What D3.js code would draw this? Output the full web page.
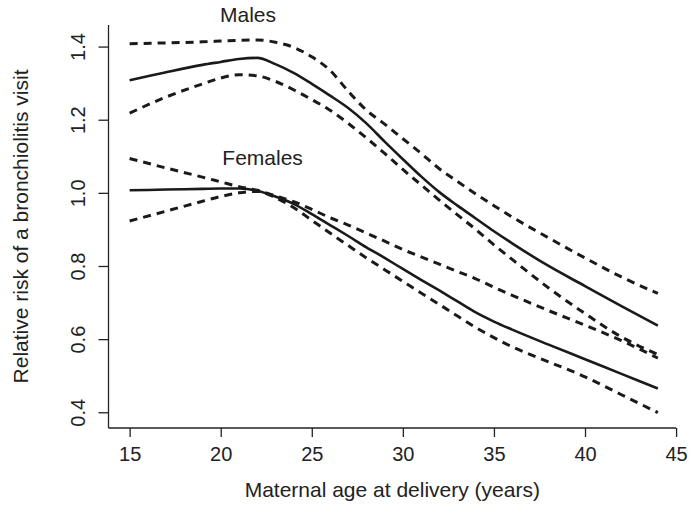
<!DOCTYPE html>
<html>
<head>
<meta charset="utf-8">
<script src="https://cdnjs.cloudflare.com/ajax/libs/d3/7.8.5/d3.min.js"></script>
<style>
    body { margin: 0; background: #fff; }
    text { font-family: "Liberation Sans", Arial, sans-serif; fill: #222; }
    .axis text { font-size: 20px; }
    .axis line { stroke: #222; stroke-width: 1.3px; }
    .line { fill: none; stroke: #1a1a1a; }
</style>
</head>
<body>
<div id="graph"></div>
<script>

// maternal age (years)
var ages = [15, 17, 19, 20, 21, 22, 23, 24, 25, 26, 27, 28, 29, 30, 31, 32, 33, 34, 35, 36, 38, 40, 42, 44];

// relative risk, males
var maleFit   = [1.308, 1.330, 1.350, 1.358, 1.366, 1.369, 1.352, 1.328, 1.298, 1.266, 1.232, 1.190, 1.140, 1.092, 1.045, 1.002, 0.965, 0.930, 0.895, 0.862, 0.800, 0.745, 0.690, 0.637];
var maleUpper = [1.408, 1.410, 1.413, 1.415, 1.417, 1.418, 1.412, 1.398, 1.372, 1.335, 1.278, 1.226, 1.188, 1.148, 1.108, 1.066, 1.031, 0.997, 0.965, 0.934, 0.877, 0.822, 0.770, 0.725];
var maleLower = [1.218, 1.262, 1.298, 1.314, 1.323, 1.320, 1.305, 1.282, 1.255, 1.226, 1.190, 1.150, 1.108, 1.064, 1.022, 0.980, 0.940, 0.900, 0.858, 0.818, 0.740, 0.670, 0.606, 0.558];

// relative risk, females
var femaleFit   = [1.007, 1.009, 1.011, 1.012, 1.012, 1.006, 0.990, 0.970, 0.942, 0.912, 0.882, 0.851, 0.822, 0.792, 0.762, 0.733, 0.703, 0.673, 0.648, 0.626, 0.585, 0.545, 0.505, 0.465];
var femaleUpper = [1.094, 1.068, 1.043, 1.030, 1.017, 1.007, 0.992, 0.976, 0.955, 0.932, 0.912, 0.890, 0.868, 0.845, 0.825, 0.805, 0.785, 0.765, 0.742, 0.720, 0.678, 0.638, 0.596, 0.548];
var femaleLower = [0.923, 0.950, 0.977, 0.990, 1.000, 1.004, 0.987, 0.960, 0.925, 0.890, 0.856, 0.822, 0.790, 0.758, 0.726, 0.695, 0.663, 0.632, 0.604, 0.579, 0.538, 0.497, 0.448, 0.399];

var xTicks = [15, 20, 25, 30, 35, 40, 45];
var yTicks = [0.4, 0.6, 0.8, 1.0, 1.2, 1.4];

var series = [
    {id: "maleFit", values: maleFit, dashed: false},
    {id: "maleUpper", values: maleUpper, dashed: true},
    {id: "maleLower", values: maleLower, dashed: true},
    {id: "femaleFit", values: femaleFit, dashed: false},
    {id: "femaleUpper", values: femaleUpper, dashed: true},
    {id: "femaleLower", values: femaleLower, dashed: true}
];

var width = 691, height = 507;

var svg = d3.select("#graph").append("svg")
    .attr("width", width)
    .attr("height", height);

// scales (R style 4% padding around the data)
var x = d3.scaleLinear().domain([13.84, 45.16]).range([108.5, 679]),
    y = d3.scaleLinear().domain([0.357, 1.459]).range([428, 25]);

// x axis
var xAxis = svg.append("g")
    .attr("class", "axis")
    .attr("transform", "translate(0," + y(0.357) + ")")
    .call(d3.axisBottom(x).tickValues(xTicks).tickSize(9).tickPadding(10).tickFormat(d3.format("d")));
xAxis.select(".domain").remove();
xAxis.selectAll("text").attr("dy", "0.72em");
xAxis.append("line")
    .attr("x1", x(13.84)).attr("x2", x(45))
    .attr("y1", 0).attr("y2", 0);

// y axis, labels turned like in R
var yAxis = svg.append("g")
    .attr("class", "axis")
    .attr("transform", "translate(" + x(13.84) + ",0)")
    .call(d3.axisLeft(y).tickValues(yTicks).tickSize(10).tickFormat(d3.format(".1f")));
yAxis.select(".domain").remove();
yAxis.selectAll(".tick text")
    .attr("x", null).attr("dy", null)
    .attr("text-anchor", "middle")
    .attr("transform", "translate(-24,0) rotate(-90)");
yAxis.append("line")
    .attr("x1", 0).attr("x2", 0)
    .attr("y1", y(0.357)).attr("y2", y(1.459));

// axis titles
svg.append("text")
    .attr("x", (x(13.84) + x(45)) / 2)
    .attr("y", 497)
    .attr("text-anchor", "middle")
    .style("font-size", "21px")
    .text("Maternal age at delivery (years)");

svg.append("text")
    .attr("transform", "translate(28," + (y(0.357) + y(1.459)) / 2 + ") rotate(-90)")
    .attr("text-anchor", "middle")
    .style("font-size", "21px")
    .text("Relative risk of a bronchiolitis visit");

// lines
var line = d3.line()
    .curve(d3.curveMonotoneX)
    .x(function(d, i) { return x(ages[i]); })
    .y(function(d) { return y(d); });

svg.selectAll(".line")
    .data(series)
  .enter().append("path")
    .attr("class", "line")
    .attr("d", function(d) { return line(d.values); })
    .style("stroke-width", function(d) { return d.dashed ? 3 : 2.6; })
    .style("stroke-dasharray", function(d) { return d.dashed ? "8,6" : null; });

// group labels
svg.append("text")
    .attr("x", x(21.5)).attr("y", 22)
    .attr("text-anchor", "middle")
    .style("font-size", "21px")
    .text("Males");

svg.append("text")
    .attr("x", x(22.3)).attr("y", 165)
    .attr("text-anchor", "middle")
    .style("font-size", "21px")
    .text("Females");

</script>
</body>
</html>
